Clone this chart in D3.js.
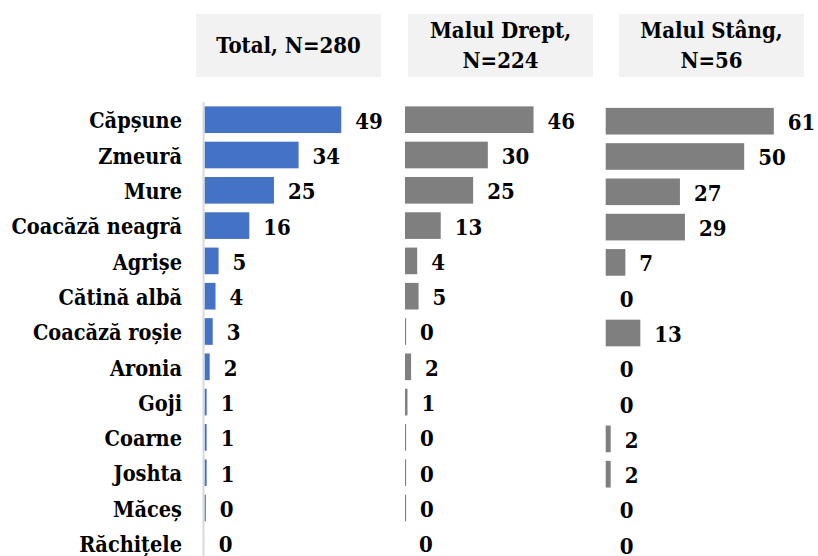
<!DOCTYPE html>
<html>
<head>
<meta charset="utf-8">
<script src="https://cdn.jsdelivr.net/npm/d3@7"></script>
<style>
  body { margin: 0; background: #fff; }
  svg text { font-family: "DejaVu Serif Condensed", "DejaVu Serif", serif; font-stretch: condensed; font-weight: bold; fill: #000; }
</style>
</head>
<body>
<div id="chart"></div>
<script>
// categories (fruit types)
var categories = ["Căpșune", "Zmeură", "Mure", "Coacăză neagră", "Agrișe", "Cătină albă",
  "Coacăză roșie", "Aronia", "Goji", "Coarne", "Joshta", "Măceș", "Răchițele"];

// percentages per group
var totalValues = [49.3, 33.9, 25.0, 16.1, 5.0, 3.9, 2.9, 1.8, 0.7, 0.7, 0.7, 0.4, 0];
var dreptValues = [46.4, 29.9, 24.6, 12.9, 4.4, 4.9, 0.4, 2.2, 0.9, 0.4, 0.4, 0.4, 0];
var stangValues = [60.7, 50.0, 26.8, 28.6, 7.1, 0, 12.5, 0, 0, 1.8, 1.8, 0, 0];

// panel headers
var headers = [["Total, N=280"], ["Malul Drept,", "N=224"], ["Malul Stâng,", "N=56"]];

var width = 818, height = 556;

var svg = d3.select("#chart").append("svg")
  .attr("width", width)
  .attr("height", height);

// shared scales
var x = d3.scaleLinear().domain([0, 70]).range([0, 70 * 2.77]);
var y = d3.scaleBand()
  .domain(categories)
  .range([102.05, 102.05 + 13 * 35.3])
  .paddingInner(0.245)
  .paddingOuter(0.1225);

var fmt = d3.format(".0f");

var panels = [
  { values: totalValues, color: "#4472c4", x0: 204.7, dy: 0, box: 196, axis: true },
  { values: dreptValues, color: "#7f7f7f", x0: 405, dy: 0, box: 408, axis: false },
  { values: stangValues, color: "#7f7f7f", x0: 605.7, dy: 1.5, box: 619, axis: false }
];

// header boxes
panels.forEach(function(p, i) {
  var hg = svg.append("g").attr("transform", "translate(" + p.box + ",14)");
  hg.append("rect")
    .attr("width", 185)
    .attr("height", 63)
    .attr("fill", "#f2f2f2");
  var lines = headers[i];
  var lh = 30;
  lines.forEach(function(t, j) {
    hg.append("text")
      .attr("x", 92.5)
      .attr("y", 31.5 + (j - (lines.length - 1) / 2) * lh)
      .attr("dy", "0.36em")
      .attr("text-anchor", "middle")
      .style("font-size", "22px")
      .text(t);
  });
});

// category labels
svg.append("g").selectAll("text")
  .data(categories)
  .enter().append("text")
  .attr("x", 182)
  .attr("y", function(d) { return y(d) + y.bandwidth() / 2 + 1; })
  .attr("dy", "0.36em")
  .attr("text-anchor", "end")
  .style("font-size", "21.5px")
  .text(function(d) { return d; });

panels.forEach(function(p) {
  var g = svg.append("g").attr("transform", "translate(" + p.x0 + "," + p.dy + ")");

  if (p.axis) {
    g.append("line")
      .attr("x1", -1.2).attr("x2", -1.2)
      .attr("y1", 102).attr("y2", height)
      .attr("stroke", "#d9d9d9")
      .attr("stroke-width", 2);
  }

  g.selectAll(".bar")
    .data(p.values)
    .enter().append("rect")
    .attr("class", "bar")
    .attr("x", 0)
    .attr("y", function(d, i) { return y(categories[i]); })
    .attr("width", function(d) { return x(d); })
    .attr("height", y.bandwidth())
    .attr("fill", p.color);

  g.selectAll(".val")
    .data(p.values)
    .enter().append("text")
    .attr("class", "val")
    .attr("x", function(d) { return x(d) + 14; })
    .attr("y", function(d, i) { return y(categories[i]) + y.bandwidth() / 2 + 1; })
    .attr("dy", "0.36em")
    .style("font-size", "22px")
    .text(function(d) { return fmt(d); });
});
</script>
</body>
</html>
